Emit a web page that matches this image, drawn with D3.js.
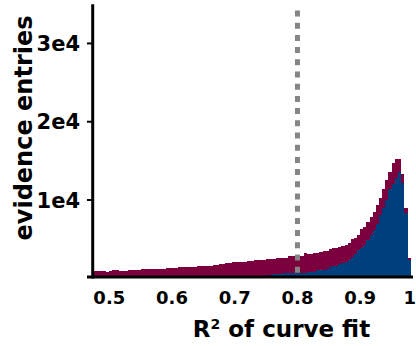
<!DOCTYPE html>
<html><head><meta charset="utf-8">
<script src="https://cdn.jsdelivr.net/npm/d3@7"></script>
<style>
html,body{margin:0;padding:0;background:#fff;}
text{font-family:"DejaVu Sans",sans-serif;font-weight:bold;fill:#000;}
</style></head>
<body><svg id="c" width="416" height="346"></svg>
<script>
// bin starts (R^2), width 0.005
const binWidth = 0.005;
const binStarts = d3.range(101).map(i => +(0.475 + i * binWidth).toFixed(3));
// all evidence entries (maroon)
const allEntries = [
  930, 940, 960, 910, 850, 870, 1060, 1040, 930, 950,
  960, 1060, 1060, 1080, 1070, 1180, 1190, 1180, 1200, 1200,
  1210, 1200, 1220, 1320, 1320, 1330, 1340, 1380, 1480, 1480,
  1490, 1500, 1500, 1570, 1570, 1580, 1590, 1590, 1700, 1710,
  1860, 1870, 1950, 1960, 2040, 2050, 2050, 2020, 2060, 2210,
  2210, 2340, 2340, 2350, 2360, 2460, 2470, 2480, 2630, 2630,
  2640, 2650, 2850, 2850, 2860, 2870, 2880, 3190, 3100, 3110,
  3270, 3280, 3400, 3490, 3500, 3700, 3830, 3840, 3960, 4120,
  4200, 4550, 4980, 5100, 5530, 6260, 6590, 7190, 7870, 8500,
  9360, 10220, 11370, 12550, 13610, 14690, 15200, 15200, 13320, 8940,
  2550
];
// subset entries (blue)
const subsetEntries = [
  10, 10, 15, 10, 15, 20, 15, 20, 20, 25,
  25, 30, 30, 35, 35, 40, 40, 45, 50, 50,
  55, 60, 60, 65, 70, 75, 80, 85, 90, 95,
  100, 110, 115, 120, 130, 135, 145, 150, 160, 170,
  180, 190, 200, 210, 220, 235, 245, 260, 270, 285,
  300, 310, 320, 335, 350, 380, 450, 590, 600, 610,
  620, 640, 680, 690, 700, 720, 730, 740, 760, 840,
  850, 1060, 1060, 1070, 1200, 1400, 1570, 1600, 1790, 1900,
  2050, 2340, 2760, 3100, 3610, 3910, 4250, 4890, 5530, 6170,
  6930, 8080, 8940, 10000, 11370, 12100, 12770, 13610, 12130, 8380,
  2340
];
const xTicks = [0.5, 0.6, 0.7, 0.8, 0.9, 1];
const xTickLabels = ["0.5", "0.6", "0.7", "0.8", "0.9", "1"];
const yTicks = [10000, 20000, 30000];
const yTickLabels = ["1e4", "2e4", "3e4"];
const threshold = 0.8;

const svg = d3.select("#c");
const x = d3.scaleLinear().domain([0.474, 0.989]).range([93, 416]);
const y = d3.scaleLinear().domain([0, 35000]).range([278.3, 4.3]);

const colAll = "#7b003d", colSub = "#003f7d";

function bars(vals, col) {
  svg.append("g").selectAll("rect").data(vals).join("rect")
    .attr("x", (d, i) => x(binStarts[i]))
    .attr("width", (d, i) => x(binStarts[i] + binWidth) - x(binStarts[i]) + 0.3)
    .attr("y", d => y(d))
    .attr("height", d => y(0) - y(d))
    .attr("fill", col)
    .attr("shape-rendering", "crispEdges");
}
bars(allEntries, colAll);
bars(subsetEntries, colSub);

// threshold dashed line
svg.append("line")
  .attr("x1", x(threshold)).attr("x2", x(threshold))
  .attr("y1", y.range()[1] + 6.2).attr("y2", y(0))
  .attr("stroke", "#858585").attr("stroke-width", 5)
  .attr("stroke-dasharray", "6,6.2");

// axes
svg.append("line").attr("x1", 87).attr("x2", 413).attr("y1", 277).attr("y2", 277)
  .attr("stroke", "#000").attr("stroke-width", 3);
svg.append("line").attr("x1", 92.7).attr("x2", 92.7).attr("y1", y.range()[1]).attr("y2", 278.5)
  .attr("stroke", "#000").attr("stroke-width", 3);

const yg = svg.append("g");
yg.selectAll("line").data(yTicks).join("line")
  .attr("x1", 87).attr("x2", 92).attr("y1", d => y(d)).attr("y2", d => y(d))
  .attr("stroke", "#000").attr("stroke-width", 2);
yg.selectAll("text").data(yTicks).join("text")
  .attr("x", 80).attr("y", d => y(d)).attr("dy", "0.36em")
  .attr("text-anchor", "end").attr("font-size", 21)
  .text((d, i) => yTickLabels[i]);

// x tick labels; the last one is kept inside the picture
svg.append("g").selectAll("text").data(xTicks).join("text")
  .attr("x", d => x(d) > 405 ? 416 : x(d)).attr("y", 304)
  .attr("text-anchor", d => x(d) > 405 ? "end" : "middle").attr("font-size", 18)
  .text((d, i) => xTickLabels[i]);

// axis titles
const xt = svg.append("text").attr("x", 281.5).attr("y", 337)
  .attr("text-anchor", "middle").attr("font-size", 23);
xt.append("tspan").text("R");
xt.append("tspan").attr("font-size", 14).attr("dy", -8).text("2");
xt.append("tspan").attr("dy", 8).text(" of curve fit");

svg.append("text").attr("transform", "translate(32,128) rotate(-90)")
  .attr("text-anchor", "middle").attr("font-size", 24)
  .text("evidence entries");
</script></body></html>
